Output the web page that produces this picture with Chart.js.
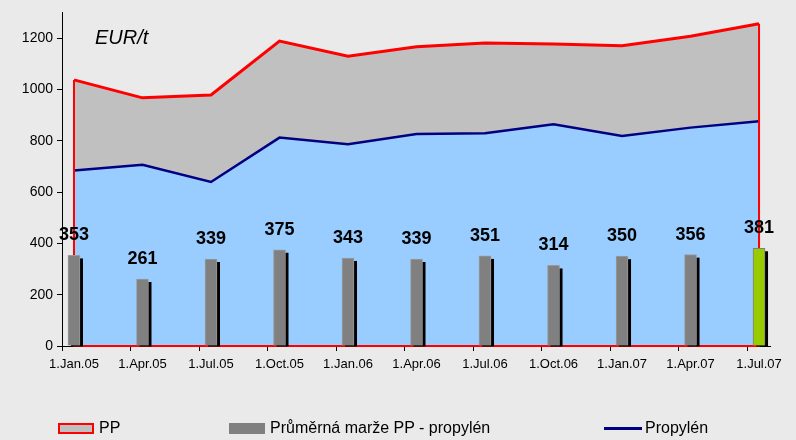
<!DOCTYPE html>
<html lang="cs">
<head>
    <meta charset="UTF-8">
    <title>PP - propylén</title>
    <script src="https://cdn.jsdelivr.net/npm/chart.js@4"></script>
    <style>
        body {
            margin: 0;
            padding: 0;
            background: #eaeaea;
            font-family: Arial, "Liberation Sans", sans-serif;
        }
        .wrap {
            position: relative;
            width: 796px;
            height: 440px;
        }
        .legend-item {
            position: absolute;
            top: 419px;
            height: 18px;
            display: flex;
            align-items: center;
            font-size: 16px;
            line-height: 18px;
            color: #000;
            white-space: nowrap;
        }
        .swatch {
            width: 36px;
            height: 11px;
            box-sizing: border-box;
            margin-right: 5px;
        }
        .sw-pp { background: #c0c0c0; border: 2px solid #ff0000; }
        .sw-margin { background: #808080; }
        .sw-line { height: 3px; width: 38px; background: #000080; margin-right: 3px; }
    </style>
</head>
<body>
    <div class="wrap">
        <canvas id="chart" width="796" height="440"></canvas>
        <div class="legend-item" style="left:58px"><span class="swatch sw-pp"></span>PP</div>
        <div class="legend-item" style="left:229px"><span class="swatch sw-margin"></span>Průměrná marže PP - propylén</div>
        <div class="legend-item" style="left:604px"><span class="swatch sw-line"></span>Propylén</div>
    </div>

    <script>
        const categories = ['1.Jan.05', '1.Apr.05', '1.Jul.05', '1.Oct.05', '1.Jan.06', '1.Apr.06',
                            '1.Jul.06', '1.Oct.06', '1.Jan.07', '1.Apr.07', '1.Jul.07'];
        const ppPrice = [1037, 967, 978, 1188, 1129, 1166, 1181, 1177, 1170, 1207, 1256];
        const propylene = [684, 706, 639, 812, 786, 826, 829, 864, 818, 851, 876];
        const margin = [353, 261, 339, 375, 343, 339, 351, 314, 350, 356, 381];
        const yTicks = [0, 200, 400, 600, 800, 1000, 1200];

        const FONT = 'Arial, "Liberation Sans", sans-serif';
        Chart.defaults.font.family = FONT;
        Chart.defaults.color = '#000';

        const tickShift = 0.175; // Excel puts the tick marks a bit left of the labels
        const xy = arr => arr.map((v, i) => ({ x: i, y: v }));
        const last = margin.length - 1;

        const decor = {
            id: 'decor',
            beforeDatasetDraw(chart, args) {
                if (args.index === 0) {
                    // black drop shadow behind each bar
                    const ctx = chart.ctx;
                    ctx.save();
                    ctx.fillStyle = '#000';
                    chart.getDatasetMeta(0).data.forEach(el => {
                        const w = el.width;
                        ctx.fillRect(el.x - w / 2 + 3, el.y + 3, w, el.base - el.y - 2);
                    });
                    ctx.restore();
                }
            },
            afterDatasetDraw(chart, args) {
                const ctx = chart.ctx;
                if (args.index === 1) {
                    // red border round the PP area
                    const pts = chart.getDatasetMeta(2).data;
                    const a = pts[0], b = pts[pts.length - 1];
                    const y0 = chart.scales.y.getPixelForValue(0);
                    ctx.save();
                    ctx.strokeStyle = '#ff0000';
                    ctx.lineWidth = 2;
                    ctx.beginPath();
                    ctx.moveTo(a.x, a.y);
                    ctx.lineTo(a.x, y0);
                    ctx.lineTo(b.x, y0);
                    ctx.lineTo(b.x, b.y);
                    ctx.stroke();
                    ctx.restore();
                }
            },
            afterDatasetsDraw(chart) {
                const ctx = chart.ctx;
                ctx.save();
                ctx.font = 'bold 18px ' + FONT;
                ctx.fillStyle = '#000';
                ctx.textAlign = 'center';
                ctx.textBaseline = 'alphabetic';
                chart.getDatasetMeta(0).data.forEach((el, i) => {
                    ctx.fillText(margin[i], el.x, el.y - 15);
                });
                ctx.restore();
            },
            afterDraw(chart) {
                const ctx = chart.ctx;
                const area = chart.chartArea;
                ctx.save();
                ctx.font = 'italic 20px ' + FONT;
                ctx.fillStyle = '#000';
                ctx.textBaseline = 'alphabetic';
                ctx.fillText('EUR/t', area.left + 33, area.top + 32);
                ctx.restore();
            }
        };

        new Chart(document.getElementById('chart'), {
            type: 'bar',
            data: {
                datasets: [
                    {
                        label: 'Průměrná marže PP - propylén',
                        data: xy(margin),
                        backgroundColor: margin.map((v, i) => i === last ? '#99cc00' : '#808080'),
                        borderColor: margin.map((v, i) => i === last ? '#808080' : '#9a9a9a'),
                        borderWidth: 1,
                        borderSkipped: 'bottom',
                        barThickness: 12,
                        order: 0
                    },
                    {
                        type: 'line',
                        label: 'Propylén',
                        data: xy(propylene),
                        borderColor: '#000080',
                        borderWidth: 2.5,
                        backgroundColor: '#99ccff',
                        fill: 'origin',
                        pointRadius: 0,
                        tension: 0,
                        order: 1
                    },
                    {
                        type: 'line',
                        label: 'PP',
                        data: xy(ppPrice),
                        borderColor: '#ff0000',
                        borderWidth: 3,
                        backgroundColor: '#c0c0c0',
                        fill: 'origin',
                        pointRadius: 0,
                        tension: 0,
                        order: 2
                    }
                ]
            },
            options: {
                responsive: false,
                animation: false,
                layout: {
                    padding: { left: 0, top: 10, right: 26, bottom: 64 }
                },
                plugins: {
                    legend: { display: false },
                    tooltip: { enabled: false }
                },
                scales: {
                    x: {
                        type: 'linear',
                        min: -tickShift,
                        max: 10.16,
                        offset: false,
                        afterBuildTicks: s => {
                            s.ticks = categories.map((c, i) => ({ value: i - tickShift }));
                        },
                        afterFit: s => { s.height = 30; },
                        ticks: {
                            callback: (v, i) => categories[i],
                            autoSkip: false,
                            maxRotation: 0,
                            labelOffset: 12,
                            padding: 6,
                            font: { size: 13 },
                            color: '#000'
                        },
                        grid: {
                            offset: false,
                            drawOnChartArea: false,
                            tickLength: 5,
                            color: '#000'
                        },
                        border: { color: '#000', width: 1 }
                    },
                    y: {
                        min: 0,
                        max: 1300,
                        afterBuildTicks: s => {
                            s.ticks = yTicks.map(v => ({ value: v }));
                        },
                        afterFit: s => { s.width = 62; },
                        ticks: {
                            callback: v => String(v),
                            padding: 4,
                            font: { size: 14 },
                            color: '#000'
                        },
                        grid: {
                            drawOnChartArea: false,
                            tickLength: 5,
                            color: '#000'
                        },
                        border: { color: '#000', width: 1 }
                    }
                }
            },
            plugins: [decor]
        });
    </script>
</body>
</html>
